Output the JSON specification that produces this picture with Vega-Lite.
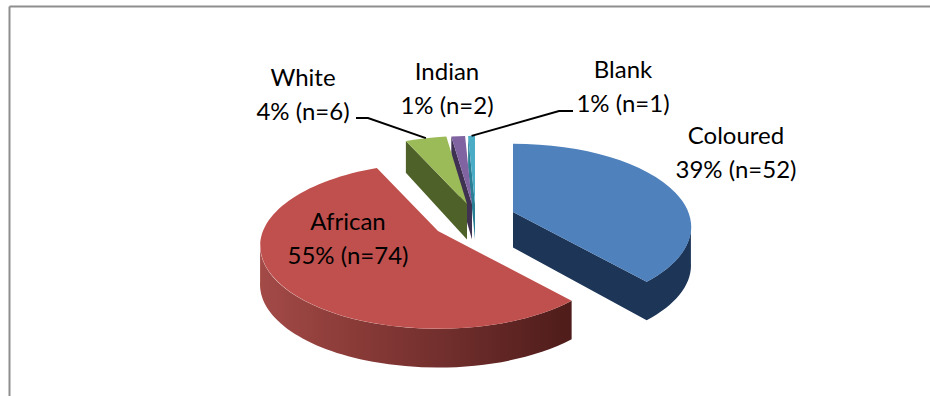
{
  "$schema": "https://vega.github.io/schema/vega-lite/v6.json",
  "width": 921,
  "height": 390,
  "autosize": "none",
  "padding": {"left": 9, "top": 6, "right": 0, "bottom": 0},
  "background": "white",
  "view": {"stroke": null},
  "data": {"values": [
    {"category": "Coloured", "n": 52},
    {"category": "African", "n": 74},
    {"category": "White", "n": 6},
    {"category": "Indian", "n": 2},
    {"category": "Blank", "n": 1}
  ]},
  "transform": [
    {"stack": "n", "groupby": [], "offset": "zero", "as": ["c0", "c1"]},
    {"joinaggregate": [{"op": "sum", "field": "n", "as": "total"}]},
    {"calculate": "datum.c0/datum.total*2*PI", "as": "a0"},
    {"calculate": "datum.c1/datum.total*2*PI", "as": "a1"},
    {"calculate": "(datum.a0+datum.a1)/2", "as": "am"},
    {"calculate": "max(datum.a0,1.752)", "as": "as"},
    {"calculate": "min(datum.a1,4.531)", "as": "ae"},
    {"calculate": "round(175*sin(datum.a0)/(1+0.18*cos(datum.a0))*100)/100", "as": "x0"},
    {"calculate": "round(-80.4*cos(datum.a0)/(1+0.18*cos(datum.a0))*100)/100", "as": "y0"},
    {"calculate": "round(175*sin(datum.a1)/(1+0.18*cos(datum.a1))*100)/100", "as": "x1"},
    {"calculate": "round(-80.4*cos(datum.a1)/(1+0.18*cos(datum.a1))*100)/100", "as": "y1"},
    {"calculate": "round(175*sin(datum.am)/(1+0.18*cos(datum.am))*100)/100", "as": "xm"},
    {"calculate": "round(-80.4*cos(datum.am)/(1+0.18*cos(datum.am))*100)/100", "as": "ym"},
    {"calculate": "round(175*sin(datum.as)/(1+0.18*cos(datum.as))*100)/100", "as": "xs"},
    {"calculate": "round(-80.4*cos(datum.as)/(1+0.18*cos(datum.as))*100)/100", "as": "ys"},
    {"calculate": "round(175*sin(datum.ae)/(1+0.18*cos(datum.ae))*100)/100", "as": "xe"},
    {"calculate": "round(-80.4*cos(datum.ae)/(1+0.18*cos(datum.ae))*100)/100", "as": "ye"},
    {"calculate": "datum.y0+35.5-4*cos(datum.a0)", "as": "b0"},
    {"calculate": "datum.y1+35.5-4*cos(datum.a1)", "as": "b1"},
    {"calculate": "datum.ys+35.5-4*cos(datum.as)", "as": "bs"},
    {"calculate": "datum.ye+35.5-4*cos(datum.ae)", "as": "be"},
    {"calculate": "{'Coloured':513,'African':438,'White':467,'Indian':472,'Blank':475}[datum.category]", "as": "tipX"},
    {"calculate": "{'Coloured':212,'African':231,'White':204,'Indian':204,'Blank':204}[datum.category]", "as": "tipY"},
    {"calculate": "{'Coloured':736,'African':348,'White':303,'Indian':447,'Blank':623}[datum.category]", "as": "labX"},
    {"calculate": "{'Coloured':137,'African':223,'White':79,'Indian':73,'Blank':71}[datum.category]", "as": "labY"},
    {"calculate": "datum.category+'\\n'+round(datum.n/datum.total*100)+'% (n='+datum.n+')'", "as": "label"},
    {"calculate": "'M0,0L'+datum.x0+','+datum.y0+'A178,83 0 '+(datum.a1-datum.a0>PI?1:0)+' 1 '+datum.x1+','+datum.y1+'Z'", "as": "topPath"},
    {"calculate": "(datum.ae>datum.as?'M'+datum.xs+','+datum.ys+'A178,83 0 0 1 '+datum.xe+','+datum.ye+'L'+datum.xe+','+datum.be+'A178,83 0 0 0 '+datum.xs+','+datum.bs+'Z':'')+(datum.a0>PI?'M0,0L'+datum.x0+','+datum.y0+'L'+datum.x0+','+datum.b0+'L0,35.5Z':'')+(datum.a1<PI?'M0,0L'+datum.x1+','+datum.y1+'L'+datum.x1+','+datum.b1+'L0,35.5Z':'')", "as": "wallPath"},
    {"calculate": "'M'+datum.xm+','+datum.ym+({'White':'L-99,-86L-111,-86','Blank':'L84,-93L98,-93'}[datum.category]||'')", "as": "leaderPath"}
  ],
  "encoding": {
    "x": {"field": "tipX", "type": "quantitative", "scale": {"domain": [9, 930], "nice": false, "zero": false}, "axis": {"orient": "top", "title": null, "ticks": false, "labels": false, "grid": false, "domainColor": "#8e8e8e", "domainWidth": 2}},
    "y": {"field": "tipY", "type": "quantitative", "scale": {"domain": [396, 6], "nice": false, "zero": false}, "axis": {"orient": "left", "title": null, "ticks": false, "labels": false, "grid": false, "domainColor": "#8e8e8e", "domainWidth": 2}}
  },
  "layer": [
    {
      "transform": [{"filter": "datum.category!=='African'"}],
      "mark": {"type": "point", "filled": true, "size": 4, "opacity": 1, "strokeWidth": 0},
      "encoding": {
        "shape": {"field": "wallPath", "type": "nominal", "scale": null},
        "fill": {"field": "category", "type": "nominal", "legend": null, "scale": {"domain": ["Coloured", "White", "Indian", "Blank"], "range": ["#1d3658", "#4e6128", "#3f3151", "#2b7f95"]}},
        "order": {"field": "c0", "sort": "descending"}
      }
    },
    {
      "transform": [{"filter": "datum.category==='African'"}],
      "mark": {
        "type": "point", "filled": true, "size": 4, "opacity": 1, "strokeWidth": 0,
        "fill": {"gradient": "linear", "x1": 0, "y1": 0, "x2": 1, "y2": 0, "stops": [
          {"offset": 0, "color": "#a34a47"},
          {"offset": 0.3, "color": "#8a3b38"},
          {"offset": 0.65, "color": "#6c2c2a"},
          {"offset": 1, "color": "#4e1c1a"}
        ]}
      },
      "encoding": {"shape": {"field": "wallPath", "type": "nominal", "scale": null}}
    },
    {
      "mark": {"type": "point", "filled": true, "size": 4, "opacity": 1, "strokeWidth": 0},
      "encoding": {
        "shape": {"field": "topPath", "type": "nominal", "scale": null},
        "fill": {"field": "category", "type": "nominal", "legend": null, "scale": {"domain": ["Coloured", "African", "White", "Indian", "Blank"], "range": ["#4f81bd", "#c0504d", "#9bbb59", "#8064a2", "#4bacc6"]}}
      }
    },
    {
      "transform": [{"filter": "datum.category==='White'||datum.category==='Blank'"}],
      "mark": {"type": "point", "filled": false, "size": 4, "opacity": 1, "stroke": "#000000", "strokeWidth": 2},
      "encoding": {"shape": {"field": "leaderPath", "type": "nominal", "scale": null}}
    },
    {
      "mark": {"type": "text", "font": "Lato", "fontSize": 24, "lineBreak": "\n", "lineHeight": 34, "align": "center", "baseline": "middle", "color": "#000000"},
      "encoding": {
        "x": {"field": "labX", "type": "quantitative"},
        "y": {"field": "labY", "type": "quantitative"},
        "text": {"field": "label", "type": "nominal"}
      }
    }
  ],
  "resolve": {"scale": {"fill": "independent"}}
}
